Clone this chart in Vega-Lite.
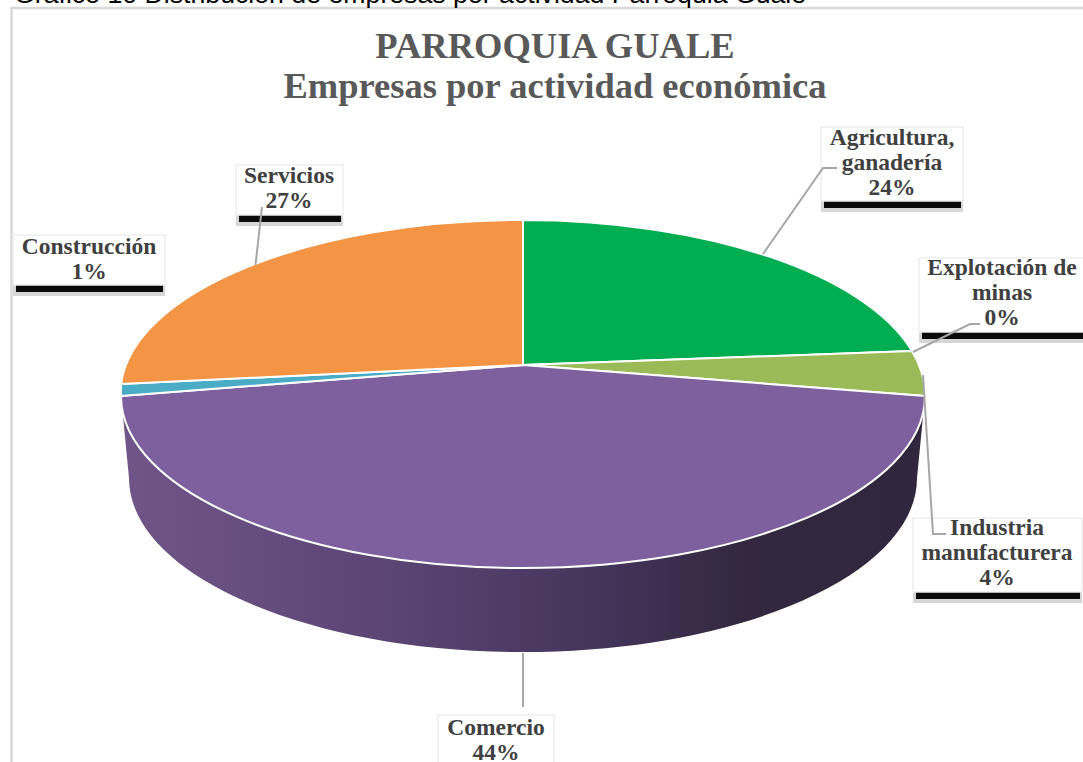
{
  "$schema": "https://vega.github.io/schema/vega-lite/v6.json",
  "width": 1046,
  "height": 730,
  "autosize": {"type": "none"},
  "padding": {"left": 0, "top": 0, "right": 37, "bottom": 32},
  "background": "white",
  "view": {"stroke": null},
  "datasets": {
    "actividades": [
      {"actividad": "Agricultura, ganadería", "porcentaje": 24, "etiqueta": "Agricultura,\nganadería\n24%"},
      {"actividad": "Explotación de minas", "porcentaje": 0, "etiqueta": "Explotación de\nminas\n0%"},
      {"actividad": "Industria manufacturera", "porcentaje": 4, "etiqueta": "Industria\nmanufacturera\n4%"},
      {"actividad": "Comercio", "porcentaje": 44, "etiqueta": "Comercio\n44%"},
      {"actividad": "Construcción", "porcentaje": 1, "etiqueta": "Construcción\n1%"},
      {"actividad": "Servicios", "porcentaje": 27, "etiqueta": "Servicios\n27%"}
    ],
    "encabezado": [
      {"texto": "Gráfico 10 Distribución de empresas por actividad Parroquia  Guale"}
    ],
    "titulo": [
      {"texto": "PARROQUIA GUALE\nEmpresas  por  actividad  económica"}
    ]
  },
  "data": {"name": "actividades"},
  "resolve": {"scale": {"x": "independent", "y": "independent", "shape": "independent", "color": "independent"}},
  "layer": [
    {
      "data": {"name": "encabezado"},
      "mark": {"type": "point", "shape": "M-511.5 -357 H570 V415 H-511.5 Z", "size": 4, "filled": false, "stroke": "#d9d9d9", "strokeWidth": 2.5, "opacity": 1}
    },
    {
      "data": {"name": "encabezado"},
      "mark": {"type": "text", "align": "left", "baseline": "alphabetic", "font": "Liberation Sans", "fontSize": 26.7, "color": "#000000"},
      "encoding": {
        "x": {"field": "texto", "type": "nominal", "axis": null, "scale": {"range": [14, 14]}},
        "y": {"field": "texto", "type": "nominal", "axis": null, "scale": {"range": [3, 3]}},
        "text": {"field": "texto"}
      }
    },
    {
      "data": {"name": "titulo"},
      "mark": {"type": "text", "align": "center", "baseline": "middle", "font": "Liberation Serif", "fontWeight": "bold", "fontSize": 36.5, "lineHeight": 40, "lineBreak": "\n", "color": "#595959"},
      "encoding": {
        "x": {"field": "texto", "type": "nominal", "axis": null, "scale": {"range": [555, 555]}},
        "y": {"field": "texto", "type": "nominal", "axis": null, "scale": {"range": [47, 47]}},
        "text": {"field": "texto"}
      }
    },
    {
      "transform": [{"filter": "datum.actividad === 'Comercio'"}],
      "mark": {
        "type": "point",
        "shape": "M-402 31 A402 172 0 0 0 402 31 L394 113 A394 174 0 0 1 -394 113 Z",
        "size": 4,
        "filled": true,
        "opacity": 1,
        "fill": {
          "x1": 0, "y1": 0, "x2": 1, "y2": 0, "gradient": "linear",
          "stops": [
            {"offset": 0, "color": "#705688"},
            {"offset": 0.35, "color": "#5a4472"},
            {"offset": 0.6, "color": "#43345a"},
            {"offset": 0.78, "color": "#33283f"},
            {"offset": 1, "color": "#30263d"}
          ]
        }
      }
    },
    {
      "mark": {"type": "point", "size": 4, "filled": true, "opacity": 1, "stroke": "#ffffff", "strokeWidth": 2},
      "transform": [{"filter": "datum.actividad !== 'Explotación de minas'"}],
      "encoding": {
        "shape": {
          "field": "actividad", "type": "nominal", "legend": null,
          "scale": {
            "domain": ["Agricultura, ganadería", "Industria manufacturera", "Comercio", "Construcción", "Servicios"],
            "range": [
              "M0 0 L0 -145 A402 174 0 0 1 389 -14 Z",
              "M0 0 L389 -14 A402 174 0 0 1 402 31 Z",
              "M0 0 L402 31 A402 172 0 0 1 -402 31 Z",
              "M0 0 L-402 31 L-402 19 Z",
              "M0 0 L-402 19 A402 174 0 0 1 0 -145 Z"
            ]
          }
        },
        "fill": {
          "field": "actividad", "type": "nominal", "legend": null,
          "scale": {
            "domain": ["Agricultura, ganadería", "Industria manufacturera", "Comercio", "Construcción", "Servicios"],
            "range": ["#00AD50", "#9BBB59", "#7F609E", "#4BACC6", "#F39545"]
          }
        }
      }
    },
    {
      "mark": {"type": "point", "size": 4, "filled": true, "opacity": 0.3, "fill": "#777777"},
      "encoding": {
        "shape": {
          "field": "actividad", "type": "nominal", "legend": null,
          "scale": {
            "domain": ["Agricultura, ganadería", "Explotación de minas", "Industria manufacturera", "Comercio", "Construcción", "Servicios"],
            "range": [
              "M298 -164 H440 V-153 H298 Z",
              "M396 -33 H565 V-22 H396 Z",
              "M390 227 H559 V238 H390 Z",
              "M-85 405 H31 V416 H-85 Z",
              "M-510 -80 H-358 V-69 H-510 Z",
              "M-287 -150 H-180 V-139 H-287 Z"
            ]
          }
        }
      }
    },
    {
      "mark": {"type": "point", "size": 4, "filled": true, "opacity": 1, "fill": "#0a0a0a"},
      "encoding": {
        "shape": {
          "field": "actividad", "type": "nominal", "legend": null,
          "scale": {
            "domain": ["Agricultura, ganadería", "Explotación de minas", "Industria manufacturera", "Comercio", "Construcción", "Servicios"],
            "range": [
              "M301 -164 H438 V-157 H301 Z",
              "M399 -33 H565 V-26 H399 Z",
              "M393 227 H557 V234 H393 Z",
              "M-82 405 H29 V412 H-82 Z",
              "M-507 -80 H-360 V-73 H-507 Z",
              "M-284 -150 H-182 V-143 H-284 Z"
            ]
          }
        }
      }
    },
    {
      "mark": {"type": "point", "size": 4, "filled": true, "opacity": 1, "fill": "#ffffff", "stroke": "#eeeeee", "strokeWidth": 1.5},
      "encoding": {
        "shape": {
          "field": "actividad", "type": "nominal", "legend": null,
          "scale": {
            "domain": ["Agricultura, ganadería", "Explotación de minas", "Industria manufacturera", "Comercio", "Construcción", "Servicios"],
            "range": [
              "M298 -238 H440 V-164 H298 Z",
              "M396 -107 H565 V-33 H396 Z",
              "M390 153 H559 V227 H390 Z",
              "M-85 350 H31 V420 H-85 Z",
              "M-510 -130 H-358 V-80 H-510 Z",
              "M-287 -200 H-180 V-150 H-287 Z"
            ]
          }
        }
      }
    },
    {
      "transform": [{"filter": "datum.actividad !== 'Construcción'"}],
      "mark": {"type": "point", "size": 4, "filled": false, "opacity": 1, "stroke": "#a6a6a6", "strokeWidth": 2},
      "encoding": {
        "shape": {
          "field": "actividad", "type": "nominal", "legend": null,
          "scale": {
            "domain": ["Agricultura, ganadería", "Explotación de minas", "Industria manufacturera", "Comercio", "Servicios"],
            "range": [
              "M240 -111 L300 -197 L314 -197",
              "M390 -13 L447 -41 L457 -41",
              "M400 10 L410 169 L423 169",
              "M0 288 L0 342",
              "M-261 -158 L-267.5 -100"
            ]
          }
        }
      }
    },
    {
      "mark": {"type": "text", "align": "center", "baseline": "middle", "font": "Liberation Serif", "fontWeight": "bold", "fontSize": 23.5, "lineHeight": 25, "lineBreak": "\n", "color": "#404040"},
      "encoding": {
        "x": {
          "field": "porcentaje", "type": "quantitative", "axis": null,
          "scale": {"domain": [0, 1, 4, 24, 27, 44], "range": [1002, 89, 997, 892, 289, 496]}
        },
        "y": {
          "field": "porcentaje", "type": "quantitative", "axis": null,
          "scale": {"domain": [0, 1, 4, 24, 27, 44], "range": [268, 247, 528, 138, 176, 728]}
        },
        "text": {"field": "etiqueta"}
      }
    }
  ]
}
